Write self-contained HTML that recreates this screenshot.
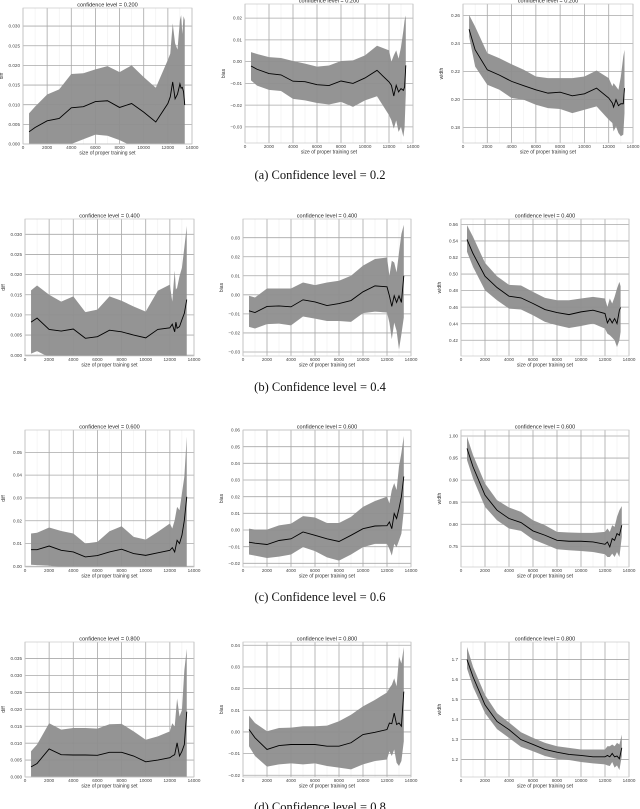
<!DOCTYPE html>
<html><head><meta charset="utf-8"><style>
html,body{margin:0;padding:0;background:#fff;}
svg{display:block;}
</style></head><body>
<svg id="fig" width="640" height="809" viewBox="0 0 640 809" xmlns="http://www.w3.org/2000/svg" font-family="'Liberation Sans', sans-serif">
<text x="320" y="179" text-anchor="middle" font-family="'Liberation Serif', serif" font-size="12.5" fill="#111">(a) Confidence level = 0.2</text>
<text x="320" y="391" text-anchor="middle" font-family="'Liberation Serif', serif" font-size="12.5" fill="#111">(b) Confidence level = 0.4</text>
<text x="320" y="601" text-anchor="middle" font-family="'Liberation Serif', serif" font-size="12.5" fill="#111">(c) Confidence level = 0.6</text>
<text x="320" y="811" text-anchor="middle" font-family="'Liberation Serif', serif" font-size="12.5" fill="#111">(d) Confidence level = 0.8</text>
</svg>
<script>
// ---- data (x = size of proper training set) ----
const xTicks = [0,2000,4000,6000,8000,10000,12000,14000];
const xTickLabels = ["0","2000","4000","6000","8000","10000","12000","14000"];

const p1x = [500,1000,2000,3000,4000,5000,6000,7000,8000,9000,10000,11000,12000,12200,12400,12600,12800,13000,13100,13200,13300,13400];
const p1mean = [0.0031,0.0042,0.0059,0.0065,0.0092,0.0095,0.0108,0.0110,0.0093,0.0103,0.0081,0.0056,0.0103,0.012,0.0158,0.0115,0.0127,0.0153,0.0142,0.0144,0.0133,0.0099];
const p1hi = [0.0078,0.0095,0.0126,0.0139,0.0178,0.0180,0.0190,0.0198,0.0183,0.0200,0.0170,0.0143,0.0214,0.0230,0.0307,0.0256,0.0240,0.0315,0.0328,0.0280,0.0325,0.0315];
const p1lo = [-0.002,-0.002,-0.001,-0.001,0.0000,0.0012,0.0024,0.0021,0.0010,-0.0005,-0.001,-0.003,-0.001,0.0003,-0.002,-0.003,-0.003,-0.004,-0.004,-0.004,-0.004,-0.004];
const p1ticks = [0.000,0.005,0.010,0.015,0.020,0.025,0.030];
const p1labels = ["0.000","0.005","0.010","0.015","0.020","0.025","0.030"];

const p2x = [500,1000,2000,3000,4000,5000,6000,7000,8000,9000,10000,11000,12000,12200,12400,12600,12800,13000,13200,13300,13400];
const p2mean = [-0.0020,-0.0035,-0.0055,-0.0061,-0.0090,-0.0092,-0.0106,-0.0110,-0.0089,-0.0100,-0.0075,-0.0040,-0.0093,-0.0109,-0.0158,-0.0109,-0.0139,-0.0124,-0.0132,-0.0116,-0.0017];
const p2hi = [0.0044,0.0035,0.0021,0.0017,0.0003,-0.0009,-0.0023,-0.0018,0.0003,0.0006,0.0029,0.0073,0.0052,0.0000,0.0029,0.0052,0.0014,0.0067,0.0144,0.0190,0.0212];
const p2lo = [-0.0086,-0.0110,-0.0130,-0.0135,-0.0171,-0.0178,-0.0190,-0.0197,-0.0185,-0.0208,-0.0178,-0.0159,-0.0246,-0.0270,-0.0308,-0.0270,-0.0323,-0.0300,-0.0346,-0.0300,-0.0147];
const p2ticks = [-0.03,-0.02,-0.01,0.00,0.01,0.02];
const p2labels = ["−0.03","−0.02","−0.01","0.00","0.01","0.02"];

const p3x = [500,1000,2000,3000,4000,5000,6000,7000,8000,9000,10000,11000,12000,12300,12400,12600,12800,13000,13200,13300];
const p3mean = [0.2502,0.2355,0.2212,0.2174,0.2129,0.2098,0.2069,0.2045,0.2052,0.2026,0.2040,0.2081,0.2010,0.1974,0.1945,0.1998,0.1955,0.1969,0.1969,0.2081];
const p3hi = [0.2605,0.2521,0.2331,0.2295,0.2252,0.2212,0.2164,0.2152,0.2152,0.2152,0.2164,0.2207,0.2152,0.2093,0.2117,0.2093,0.2069,0.2164,0.2307,0.2355];
const p3lo = [0.2450,0.2236,0.2105,0.2069,0.2010,0.1998,0.1962,0.1938,0.1931,0.1902,0.1926,0.1950,0.1855,0.1831,0.1771,0.1807,0.1760,0.1736,0.1748,0.1902];
const p3ticks = [0.18,0.20,0.22,0.24,0.26];
const p3labels = ["0.18","0.20","0.22","0.24","0.26"];

const p4x = [500,1000,2000,3000,4000,5000,6000,7000,8000,9000,10000,11000,12000,12200,12400,12500,12600,12800,13000,13200,13400];
const p4mean = [0.0082,0.0092,0.0064,0.0060,0.0065,0.0042,0.0046,0.0062,0.0058,0.0050,0.0043,0.0064,0.0068,0.0077,0.0058,0.0082,0.0067,0.0071,0.0088,0.0104,0.0138];
const p4hi = [0.0161,0.0173,0.0150,0.0133,0.0146,0.0107,0.0113,0.0146,0.0135,0.0121,0.0108,0.0160,0.0175,0.0133,0.0210,0.0163,0.0167,0.0196,0.0217,0.0267,0.0321];
const p4lo = [0.0004,0.0010,-0.0005,-0.0005,-0.0005,-0.0005,-0.0005,-0.0005,-0.0005,-0.0005,-0.0005,-0.0005,-0.0005,-0.0005,-0.0005,-0.0005,-0.0005,-0.0005,-0.0005,-0.0005,-0.0005];
const p4ticks = [0.000,0.005,0.010,0.015,0.020,0.025,0.030];
const p4labels = ["0.000","0.005","0.010","0.015","0.020","0.025","0.030"];

const xs20 = [500,1000,2000,3000,4000,5000,6000,7000,8000,9000,10000,11000,12000,12200,12400,12600,12800,13000,13200,13400];

const p5mean = [-0.0084,-0.0093,-0.0061,-0.0058,-0.0063,-0.0026,-0.0037,-0.0056,-0.0046,-0.0030,0.0016,0.0047,0.0042,-0.0005,-0.0061,-0.0005,-0.0040,-0.0005,-0.0040,0.0100];
const p5hi = [-0.0005,-0.0014,0.0033,0.0033,0.0033,0.0065,0.0051,0.0065,0.0074,0.0100,0.0153,0.0188,0.0196,0.0100,0.0179,0.0170,0.0118,0.0223,0.0319,0.0367];
const p5lo = [-0.0168,-0.0177,-0.0154,-0.0151,-0.0160,-0.0114,-0.0125,-0.0137,-0.0137,-0.0142,-0.0096,-0.0088,-0.0093,-0.0146,-0.0233,-0.0146,-0.0189,-0.0286,-0.0207,-0.0119];
const p5ticks = [-0.03,-0.02,-0.01,0.00,0.01,0.02,0.03];
const p5labels = ["−0.03","−0.02","−0.01","0.00","0.01","0.02","0.03"];

const p6x = [500,1000,2000,3000,4000,5000,6000,7000,8000,9000,10000,11000,12000,12200,12400,12600,12800,13000,13200,13300];
const p6mean = [0.5418,0.5248,0.4974,0.4837,0.4732,0.4712,0.4644,0.4571,0.4535,0.4510,0.4543,0.4563,0.4523,0.4410,0.4462,0.4410,0.4462,0.4402,0.4563,0.4595];
const p6hi = [0.5591,0.5450,0.5135,0.4974,0.4869,0.4861,0.4785,0.4712,0.4684,0.4684,0.4704,0.4724,0.4704,0.4603,0.4704,0.4644,0.4724,0.4825,0.4906,0.4853];
const p6lo = [0.5269,0.5087,0.4805,0.4684,0.4583,0.4571,0.4502,0.4422,0.4381,0.4349,0.4373,0.4402,0.4341,0.4281,0.4260,0.4232,0.4200,0.4119,0.4200,0.4301];
const p6ticks = [0.42,0.44,0.46,0.48,0.50,0.52,0.54,0.56];
const p6labels = ["0.42","0.44","0.46","0.48","0.50","0.52","0.54","0.56"];

const p7mean = [0.0073,0.0073,0.0089,0.0070,0.0063,0.0041,0.0047,0.0063,0.0075,0.0056,0.0048,0.0059,0.0070,0.0082,0.0063,0.0114,0.0100,0.0136,0.0202,0.0305];
const p7hi = [0.0144,0.0147,0.0170,0.0155,0.0144,0.0100,0.0107,0.0154,0.0176,0.0129,0.0117,0.0151,0.0188,0.0166,0.0202,0.0261,0.0246,0.0320,0.0393,0.0569];
const p7lo = [0.0007,0.0005,0.0003,-0.0005,-0.0005,-0.0005,-0.0005,-0.0005,-0.0005,-0.0005,-0.0005,-0.0005,-0.0005,-0.0005,-0.0005,-0.0005,-0.0005,-0.0005,-0.0005,-0.0005];
const p7ticks = [0.00,0.01,0.02,0.03,0.04,0.05];
const p7labels = ["0.00","0.01","0.02","0.03","0.04","0.05"];

const p8mean = [-0.0073,-0.0079,-0.0087,-0.0063,-0.0053,-0.0012,-0.0032,-0.0053,-0.0069,-0.0032,0.0008,0.0024,0.0026,0.0048,0.0008,0.0099,0.0069,0.0129,0.0200,0.0321];
const p8hi = [0.0008,0.0002,0.0002,0.0028,0.0038,0.0083,0.0075,0.0042,0.0042,0.0079,0.0139,0.0174,0.0200,0.0160,0.0240,0.0281,0.0240,0.0382,0.0463,0.0564];
const p8lo = [-0.0147,-0.0154,-0.0168,-0.0160,-0.0147,-0.0103,-0.0127,-0.0164,-0.0184,-0.0147,-0.0103,-0.0083,-0.0083,-0.0113,-0.0154,-0.0083,-0.0103,-0.0063,-0.0022,0.0119];
const p8ticks = [-0.02,-0.01,0.00,0.01,0.02,0.03,0.04,0.05,0.06];
const p8labels = ["−0.02","−0.01","0.00","0.01","0.02","0.03","0.04","0.05","0.06"];

const p9mean = [0.9720,0.9303,0.8659,0.8318,0.8129,0.8038,0.7848,0.7750,0.7636,0.7614,0.7614,0.7598,0.7545,0.7598,0.7485,0.7674,0.7636,0.7788,0.7750,0.7977];
const p9hi = [0.9985,0.9568,0.8924,0.8545,0.8379,0.8280,0.8091,0.7977,0.7826,0.7811,0.7803,0.7803,0.7826,0.7902,0.7826,0.7977,0.7939,0.8167,0.8318,0.8409];
const p9lo = [0.9455,0.9038,0.8394,0.8091,0.7902,0.7848,0.7652,0.7545,0.7432,0.7409,0.7394,0.7371,0.7318,0.7258,0.7258,0.7333,0.7258,0.7371,0.7258,0.7712];
const p9ticks = [0.75,0.80,0.85,0.90,0.95,1.00];
const p9labels = ["0.75","0.80","0.85","0.90","0.95","1.00"];

const p10mean = [0.0030,0.0040,0.0083,0.0066,0.0065,0.0065,0.0064,0.0073,0.0073,0.0062,0.0045,0.0050,0.0057,0.0062,0.0066,0.0101,0.0062,0.0076,0.0096,0.0193];
const p10hi = [0.0076,0.0096,0.0159,0.0140,0.0145,0.0145,0.0143,0.0156,0.0157,0.0135,0.0110,0.0120,0.0135,0.0159,0.0149,0.0232,0.0179,0.0198,0.0315,0.0379];
const p10lo = [-0.0005,-0.0005,-0.0005,-0.0005,-0.0005,-0.0005,-0.0005,-0.0005,-0.0005,-0.0005,-0.0005,-0.0005,-0.0005,-0.0005,-0.0005,-0.0005,-0.0005,-0.0005,-0.0005,-0.0005];
const p10ticks = [0.000,0.005,0.010,0.015,0.020,0.025,0.030,0.035];
const p10labels = ["0.000","0.005","0.010","0.015","0.020","0.025","0.030","0.035"];

const p11mean = [0.0011,-0.0027,-0.0081,-0.0063,-0.0058,-0.0058,-0.0058,-0.0066,-0.0066,-0.0050,-0.0012,-0.0002,0.0011,0.0041,0.0038,0.0087,0.0034,0.0041,0.0026,0.0186];
const p11hi = [0.0075,0.0041,0.0003,0.0018,0.0020,0.0026,0.0026,0.0029,0.0049,0.0079,0.0118,0.0148,0.0182,0.0202,0.0217,0.0247,0.0210,0.0347,0.0316,0.0392];
const p11lo = [-0.0066,-0.0111,-0.0160,-0.0150,-0.0145,-0.0150,-0.0145,-0.0157,-0.0165,-0.0173,-0.0150,-0.0134,-0.0127,-0.0089,-0.0111,-0.0081,-0.0142,-0.0157,-0.0134,-0.0043];
const p11ticks = [-0.02,-0.01,0.00,0.01,0.02,0.03,0.04];
const p11labels = ["−0.02","−0.01","0.00","0.01","0.02","0.03","0.04"];

const p12mean = [1.700,1.614,1.473,1.390,1.349,1.299,1.275,1.250,1.236,1.225,1.220,1.213,1.213,1.220,1.213,1.230,1.213,1.217,1.203,1.258];
const p12hi = [1.763,1.664,1.523,1.432,1.385,1.336,1.308,1.283,1.266,1.258,1.250,1.250,1.250,1.266,1.266,1.275,1.266,1.283,1.275,1.324];
const p12lo = [1.655,1.564,1.432,1.352,1.308,1.263,1.241,1.217,1.203,1.197,1.187,1.180,1.175,1.170,1.167,1.187,1.159,1.170,1.147,1.217];
const p12ticks = [1.2,1.3,1.4,1.5,1.6,1.7];
const p12labels = ["1.2","1.3","1.4","1.5","1.6","1.7"];

const NS = "http://www.w3.org/2000/svg";
const svg = document.getElementById('fig');
function mk(tag, attrs, parent){
  const e = document.createElementNS(NS, tag);
  for (const k in attrs) e.setAttribute(k, attrs[k]);
  (parent||svg).appendChild(e);
  return e;
}
let clipId = 0;
function panel(name, rect, ymin, ymax, xs, mean, lo, hi, yt, ytl, title, ylab){
  const [L,T,R,B] = rect;
  const g = mk('g', {});
  
  
  const sx = v => L + (v/14000)*(R-L);
  const sy = v => B - (v-ymin)/(ymax-ymin)*(B-T);
  // minor grid
  for (let v=1000; v<14000; v+=2000){
    const l = mk('line', {x1:sx(v),x2:sx(v),y1:T,y2:B,stroke:'#ececec','stroke-width':0.5}, g);
    
    
  }
  // major x grid + labels
  xTicks.forEach((v,i)=>{
    const l = mk('line', {x1:sx(v),x2:sx(v),y1:T,y2:B,stroke:'#a8a8a8','stroke-width':0.8}, g);
    
    
    const t = mk('text', {x:sx(v),y:B+5,'font-size':4.6,'text-anchor':'middle',fill:'#444'}, g);
    
    
    t.textContent = xTickLabels[i];
  });
  yt.forEach((v,i)=>{
    const l = mk('line', {x1:L,x2:R,y1:sy(v),y2:sy(v),stroke:'#a8a8a8','stroke-width':0.8}, g);
    
    
    const t = mk('text', {x:L-3,y:sy(v)+1.6,'font-size':4.6,'text-anchor':'end',fill:'#444'}, g);
    
    
    t.textContent = ytl[i];
  });
  const cid = 'c'+(clipId++);
  const cp = mk('clipPath', {id:cid}, g);
  mk('rect', {x:L,y:T,width:R-L,height:B-T}, cp);
  const pg = mk('g', {'clip-path':'url(#'+cid+')'}, g);
  let d = '';
  xs.forEach((x,i)=>{ d += (i?'L':'M') + sx(x).toFixed(2)+','+sy(hi[i]).toFixed(2); });
  for (let i=xs.length-1;i>=0;i--) d += 'L'+sx(xs[i]).toFixed(2)+','+sy(lo[i]).toFixed(2);
  const band = mk('path', {d:d+'Z', fill:'#8e8e8e', 'fill-opacity':0.95}, pg);
  
  
  let dm = '';
  xs.forEach((x,i)=>{ dm += (i?'L':'M') + sx(x).toFixed(2)+','+sy(mean[i]).toFixed(2); });
  const ml = mk('path', {d:dm, fill:'none', stroke:'#000', 'stroke-width':0.9}, pg);
  
  
  const fr = mk('rect', {x:L,y:T,width:R-L,height:B-T,fill:'none',stroke:'#c8c8c8','stroke-width':0.7}, g);
  
  
  const tt = mk('text', {x:(L+R)/2,y:T-1.5,'font-size':5.6,'text-anchor':'middle',fill:'#222'}, g);
  
  
  tt.textContent = title;
  const xl = mk('text', {x:(L+R)/2,y:B+10.5,'font-size':5,'text-anchor':'middle',fill:'#333'}, g);
  
  
  xl.textContent = 'size of proper training set';
  const yx = L-20, yy = (T+B)/2;
  const yl = mk('text', {x:yx,y:yy,'font-size':5,'text-anchor':'middle',fill:'#333',transform:'rotate(-90 '+yx+' '+yy+')'}, g);
  
  
  yl.textContent = ylab;
}
panel('panel-diff-0.2',[23,8,192,144],0,0.0346,p1x,p1mean,p1lo,p1hi,p1ticks,p1labels,'confidence level = 0.200','diff');
panel('panel-bias-0.2',[245,4,413,143],-0.0374,0.0265,p2x,p2mean,p2lo,p2hi,p2ticks,p2labels,'confidence level = 0.200','bias');
panel('panel-width-0.2',[463,4,633,143],0.1688,0.2683,p3x,p3mean,p3lo,p3hi,p3ticks,p3labels,'confidence level = 0.200','width');
panel('panel-diff-0.4',[25,219,194,356],-0.0002,0.0338,p4x,p4mean,p4lo,p4hi,p4ticks,p4labels,'confidence level = 0.400','diff');
panel('panel-bias-0.4',[243,219,411,356],-0.0321,0.0398,xs20,p5mean,p5lo,p5hi,p5ticks,p5labels,'confidence level = 0.400','bias');
panel('panel-width-0.4',[461,219,629,356],0.401,0.5665,p6x,p6mean,p6lo,p6hi,p6ticks,p6labels,'confidence level = 0.400','width');
panel('panel-diff-0.6',[25,430,194,567],-0.0003,0.0598,xs20,p7mean,p7lo,p7hi,p7ticks,p7labels,'confidence level = 0.600','diff');
panel('panel-bias-0.6',[243,430,411,567],-0.0222,0.06,xs20,p8mean,p8lo,p8hi,p8ticks,p8labels,'confidence level = 0.600','bias');
panel('panel-width-0.6',[461,430,629,567],0.703,1.0136,xs20,p9mean,p9lo,p9hi,p9ticks,p9labels,'confidence level = 0.600','width');
panel('panel-diff-0.8',[25,642,194,777],0,0.0399,xs20,p10mean,p10lo,p10hi,p10ticks,p10labels,'confidence level = 0.800','diff');
panel('panel-bias-0.8',[243,642,411,777],-0.0208,0.0415,xs20,p11mean,p11lo,p11hi,p11ticks,p11labels,'confidence level = 0.800','bias');
panel('panel-width-0.8',[461,642,629,777],1.112,1.788,xs20,p12mean,p12lo,p12hi,p12ticks,p12labels,'confidence level = 0.800','width');
</script>
</body></html>
